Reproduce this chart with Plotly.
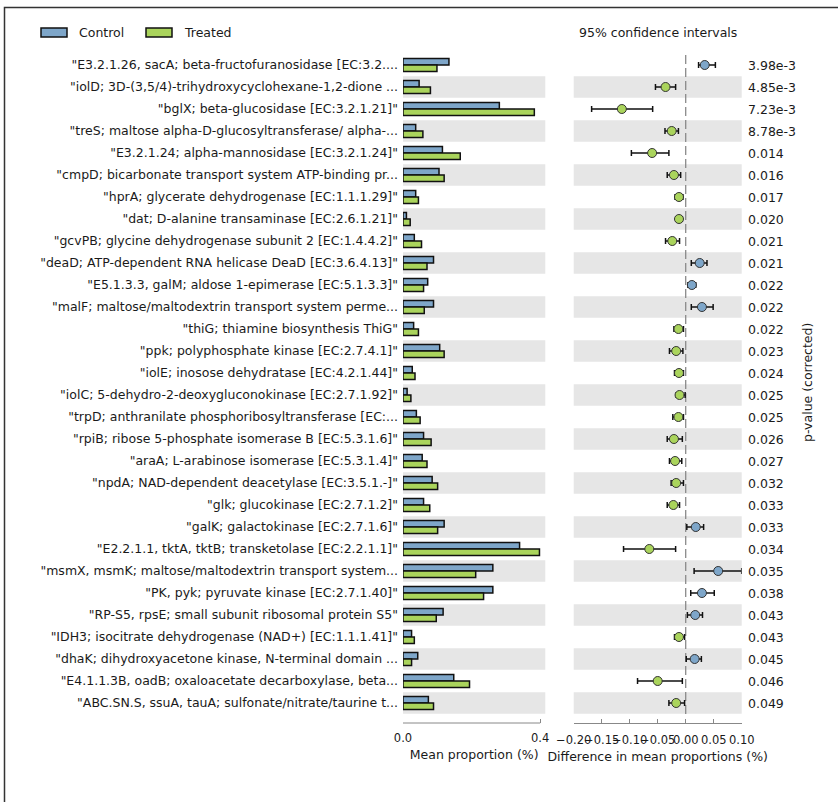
import plotly.graph_objects as go

# Functions (KEGG orthologs) ordered by corrected p-value
features = [
    '"E3.2.1.26, sacA; beta-fructofuranosidase [EC:3.2....',
    '"iolD; 3D-(3,5/4)-trihydroxycyclohexane-1,2-dione ...',
    '"bglX; beta-glucosidase [EC:3.2.1.21]"',
    '"treS; maltose alpha-D-glucosyltransferase/ alpha-...',
    '"E3.2.1.24; alpha-mannosidase [EC:3.2.1.24]"',
    '"cmpD; bicarbonate transport system ATP-binding pr...',
    '"hprA; glycerate dehydrogenase [EC:1.1.1.29]"',
    '"dat; D-alanine transaminase [EC:2.6.1.21]"',
    '"gcvPB; glycine dehydrogenase subunit 2 [EC:1.4.4.2]"',
    '"deaD; ATP-dependent RNA helicase DeaD [EC:3.6.4.13]"',
    '"E5.1.3.3, galM; aldose 1-epimerase [EC:5.1.3.3]"',
    '"malF; maltose/maltodextrin transport system perme...',
    '"thiG; thiamine biosynthesis ThiG"',
    '"ppk; polyphosphate kinase [EC:2.7.4.1]"',
    '"iolE; inosose dehydratase [EC:4.2.1.44]"',
    '"iolC; 5-dehydro-2-deoxygluconokinase [EC:2.7.1.92]"',
    '"trpD; anthranilate phosphoribosyltransferase [EC:...',
    '"rpiB; ribose 5-phosphate isomerase B [EC:5.3.1.6]"',
    '"araA; L-arabinose isomerase [EC:5.3.1.4]"',
    '"npdA; NAD-dependent deacetylase [EC:3.5.1.-]"',
    '"glk; glucokinase [EC:2.7.1.2]"',
    '"galK; galactokinase [EC:2.7.1.6]"',
    '"E2.2.1.1, tktA, tktB; transketolase [EC:2.2.1.1]"',
    '"msmX, msmK; maltose/maltodextrin transport system...',
    '"PK, pyk; pyruvate kinase [EC:2.7.1.40]"',
    '"RP-S5, rpsE; small subunit ribosomal protein S5"',
    '"IDH3; isocitrate dehydrogenase (NAD+) [EC:1.1.1.41]"',
    '"dhaK; dihydroxyacetone kinase, N-terminal domain ...',
    '"E4.1.1.3B, oadB; oxaloacetate decarboxylase, beta...',
    '"ABC.SN.S, ssuA, tauA; sulfonate/nitrate/taurine t...',
]

# Mean proportions (%)
control_mean = [0.134, 0.047, 0.281, 0.037, 0.115, 0.105, 0.037, 0.010, 0.033, 0.089,
                0.072, 0.089, 0.031, 0.107, 0.027, 0.012, 0.039, 0.060, 0.056, 0.085,
                0.060, 0.120, 0.340, 0.262, 0.262, 0.117, 0.025, 0.043, 0.148, 0.074]
treated_mean = [0.099, 0.080, 0.383, 0.058, 0.167, 0.120, 0.045, 0.021, 0.054, 0.070,
                0.060, 0.062, 0.045, 0.120, 0.035, 0.023, 0.050, 0.082, 0.070, 0.101,
                0.078, 0.101, 0.398, 0.212, 0.235, 0.097, 0.033, 0.025, 0.194, 0.089]

# Difference in mean proportions (%) with 95% confidence interval bounds
ci_diff = [0.034, -0.036, -0.114, -0.025, -0.060, -0.021, -0.012, -0.012, -0.024, 0.025,
           0.011, 0.029, -0.013, -0.017, -0.012, -0.011, -0.013, -0.021, -0.019, -0.017,
           -0.022, 0.018, -0.065, 0.058, 0.029, 0.017, -0.012, 0.016, -0.050, -0.017]
ci_low = [0.023, -0.054, -0.168, -0.037, -0.097, -0.033, -0.019, -0.017, -0.036, 0.010,
          0.004, 0.010, -0.021, -0.029, -0.020, -0.017, -0.023, -0.033, -0.029, -0.026,
          -0.033, 0.002, -0.111, 0.015, 0.009, 0.003, -0.020, 0.001, -0.086, -0.030]
ci_high = [0.053, -0.018, -0.059, -0.013, -0.030, -0.009, -0.005, -0.006, -0.011, 0.038,
           0.018, 0.049, -0.004, -0.005, -0.004, -0.001, -0.004, -0.006, -0.007, -0.004,
           -0.011, 0.032, -0.018, 0.100, 0.051, 0.030, -0.002, 0.028, -0.006, -0.002]

p_values = ["3.98e-3", "4.85e-3", "7.23e-3", "8.78e-3", "0.014", "0.016", "0.017", "0.020",
            "0.021", "0.021", "0.022", "0.022", "0.022", "0.023", "0.024", "0.025",
            "0.025", "0.026", "0.027", "0.032", "0.033", "0.033", "0.034", "0.035",
            "0.038", "0.043", "0.043", "0.045", "0.046", "0.049"]

group_names = ["Control", "Treated"]
bar_ticks = [0.0, 0.4]
bar_tick_text = ["0.0", "0.4"]
ci_ticks = [-0.20, -0.15, -0.10, -0.05, 0.00, 0.05, 0.10]
ci_tick_text = ["\u22120.20", "\u22120.15", "\u22120.10", "\u22120.05", "0.00", "0.05", "0.10"]

# ---- styling / layout geometry ----
W, H = 838, 802
BLUE = "#7ea6c9"
GREEN = "#aad45c"
BAND = "#e6e6e6"
TXT = "#1a1a1a"
FONT = "DejaVu Sans"


def px(x):
    return x / W


def py(y):
    return 1 - y / H


rows = list(range(len(features)))
row_pitch = 22.0
y_top_px, y_bot_px = 54, 723
y_range = [-0.5 + (y_bot_px - y_top_px) / row_pitch, -0.5]
y_domain = [py(y_bot_px), py(y_top_px)]

fig = go.Figure()

# Mean-proportion bars
fig.add_trace(go.Bar(
    x=control_mean, y=rows, orientation="h", name=group_names[0],
    width=0.3, offset=-0.3, marker=dict(color=BLUE, line=dict(color="#111", width=1.5)),
    xaxis="x", yaxis="y", showlegend=False,
))
fig.add_trace(go.Bar(
    x=treated_mean, y=rows, orientation="h", name=group_names[1],
    width=0.3, offset=0.0, marker=dict(color=GREEN, line=dict(color="#111", width=1.5)),
    xaxis="x", yaxis="y", showlegend=False,
))

# Difference with confidence intervals
err_plus = [h - d for h, d in zip(ci_high, ci_diff)]
err_minus = [d - l for d, l in zip(ci_diff, ci_low)]
pt_colors = [BLUE if d > 0 else GREEN for d in ci_diff]
fig.add_trace(go.Scatter(
    x=ci_diff, y=rows, mode="markers", xaxis="x2", yaxis="y2",
    marker=dict(size=9, color=pt_colors, line=dict(color="#333", width=1)),
    error_x=dict(type="data", symmetric=False, array=err_plus, arrayminus=err_minus,
                 color="#111", thickness=1.5, width=3),
    showlegend=False,
))

shapes = []
# alternating row bands
for i in rows:
    if i % 2 == 1:
        for xr in ("x domain", "x2 domain"):
            shapes.append(dict(type="rect", xref=xr, yref="y", x0=0, x1=1,
                               y0=i - 0.49, y1=i + 0.49, fillcolor=BAND,
                               line=dict(width=0), layer="below"))
# zero line in CI panel
shapes.append(dict(type="line", xref="x2", yref="y", x0=0, x1=0, y0=-0.45, y1=29.5,
                   line=dict(color="#8a8a8a", width=1.3, dash="9px,4px"), layer="below"))
# bar panel axis line (0 to 0.4)
shapes.append(dict(type="line", xref="x", yref="y domain", x0=0, x1=0.4, y0=0, y1=0,
                   line=dict(color="#888", width=1)))
# outer frame
shapes.append(dict(type="rect", xref="paper", yref="paper", x0=px(4.5), x1=px(900),
                   y0=py(900), y1=py(7.5), line=dict(color="#333", width=1.5),
                   fillcolor="rgba(0,0,0,0)"))
# legend patches
for x0, col in ((41, BLUE), (146, GREEN)):
    shapes.append(dict(type="rect", xref="paper", yref="paper", x0=px(x0), x1=px(x0 + 26),
                       y0=py(37), y1=py(28), fillcolor=col,
                       line=dict(color="#111", width=1.5)))

annotations = []
for name, x0 in zip(group_names, (77, 182)):
    annotations.append(dict(text=name, xref="paper", yref="paper", x=px(x0), y=py(32.5),
                            xanchor="left", yanchor="middle", showarrow=False,
                            font=dict(size=12.5, color=TXT, family=FONT)))
annotations.append(dict(text="95% confidence intervals", xref="paper", yref="paper",
                        x=px(658), y=py(32.5), xanchor="center", yanchor="middle",
                        showarrow=False, font=dict(size=12.5, color=TXT, family=FONT)))
for i, p in enumerate(p_values):
    annotations.append(dict(text=p, xref="paper", yref="y", x=px(746), y=i,
                            xanchor="left", yanchor="middle", showarrow=False,
                            font=dict(size=12.5, color=TXT, family=FONT)))
annotations.append(dict(text="p-value (corrected)", xref="paper", yref="paper",
                        x=px(808), y=py(383), textangle=-90, xanchor="center",
                        yanchor="middle", showarrow=False,
                        font=dict(size=12.5, color=TXT, family=FONT)))

axis_common = dict(ticks="inside", ticklen=4, tickcolor="#888", tickangle=0,
                   showgrid=False, zeroline=False, automargin=False,
                   ticklabelstandoff=6,
                   tickfont=dict(size=11.5, color=TXT, family=FONT),
                   title_font=dict(size=12.5, color=TXT, family=FONT), title_standoff=6)

fig.update_layout(
    width=W, height=H,
    margin=dict(l=0, r=0, t=0, b=0),
    paper_bgcolor="white", plot_bgcolor="rgba(0,0,0,0)",
    font=dict(family=FONT, color=TXT),
    barmode="overlay",
    xaxis=dict(domain=[px(403), px(545.3)], range=[0, 0.415], anchor="y",
               tickvals=bar_ticks, ticktext=bar_tick_text, showline=False,
               title_text="Mean proportion (%)", **axis_common),
    xaxis2=dict(domain=[px(573.7), px(741.7)], range=[-0.2, 0.1], anchor="y2",
                tickvals=ci_ticks, ticktext=ci_tick_text, showline=True, linecolor="#888",
                linewidth=1, title_text="Difference in mean proportions (%)", **axis_common),
    yaxis=dict(domain=y_domain, range=y_range, tickvals=rows, ticktext=features,
               ticks="", showline=False, showgrid=False, zeroline=False, automargin=False,
               ticklabelstandoff=4, tickfont=dict(size=12.5, color=TXT, family=FONT),
               anchor="x"),
    yaxis2=dict(domain=y_domain, range=y_range, matches="y", showticklabels=False,
                ticks="", showline=False, showgrid=False, zeroline=False, anchor="x2"),
    shapes=shapes,
    annotations=annotations,
)

fig.write_html("out.html")
